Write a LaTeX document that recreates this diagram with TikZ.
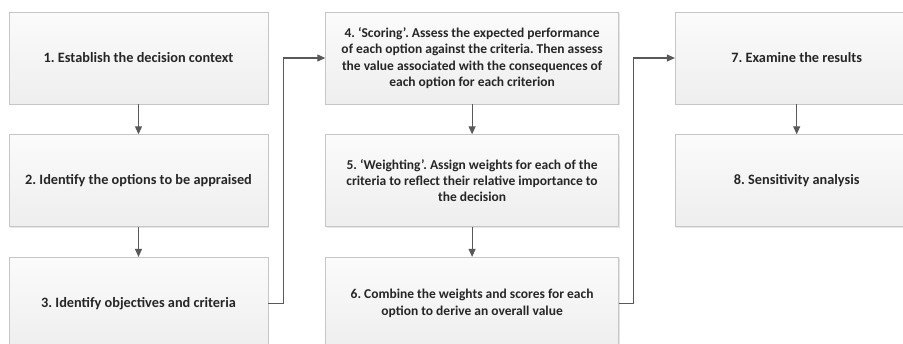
\documentclass[tikz,border=0pt]{standalone}
\usepackage{fontspec}
\setmainfont{Carlito}
\frenchspacing
\usetikzlibrary{positioning, arrows.meta, shadows}
\definecolor{boxTop}{HTML}{FBFBFB}
\definecolor{boxBottom}{HTML}{EEEEEE}
\definecolor{borderGray}{HTML}{C6C6C6}
\definecolor{arrowColor}{HTML}{595959}
\definecolor{textMain}{HTML}{262626}
\tikzset{
  stepbox/.style={
    draw=borderGray, top color=boxTop, bottom color=boxBottom,
    minimum height=92pt, inner sep=4pt,
    font=\bfseries\fontsize{14.3}{17}\selectfont, text=textMain,
    line width=0.6pt, align=center,
    drop shadow={opacity=0.2, shadow xshift=1.2pt, shadow yshift=-1.2pt},
  },
  longtext/.style={font=\bfseries\fontsize{13.5}{16.4}\selectfont},
  narrowbox/.style={stepbox, minimum width=259pt},
  widebox/.style={stepbox, longtext, minimum width=293pt},
  rightbox/.style={stepbox, minimum width=243pt},
  flowarrow/.style={
    -{Triangle[length=8pt, width=7pt]}, line width=1.1pt, color=arrowColor,
  },
}

\begin{document}
\begin{tikzpicture}

  \clip (0,0) rectangle (903pt,-343pt);

  % === Left column ===
  \node[narrowbox] (context) at (138.5pt,-58pt) {1. Establish the decision context};
  \node[narrowbox, below=30pt of context] (options) {2. Identify the options to be appraised};
  \node[narrowbox, below=30pt of options] (criteria) {3. Identify objectives and criteria};

  % === Middle column ===
  \node[widebox, right=57pt of context] (scoring)
    {4. `Scoring'. Assess the expected performance\\of each option against the criteria. Then assess\\the value associated with the consequences of\\each option for each criterion};
  \node[widebox, below=30pt of scoring] (weighting)
    {5. `Weighting'. Assign weights for each of the\\criteria to reflect their relative importance to\\the decision};
  \node[widebox, below=30pt of weighting] (combine)
    {6. Combine the weights and scores for each\\option to derive an overall value};

  % === Right column ===
  \node[rightbox, right=56pt of scoring] (results) {7. Examine the results};
  \node[rightbox, below=30pt of results] (sensitivity) {8. Sensitivity analysis};

  % === Arrows down each column ===
  \draw[flowarrow] (context) -- (options);
  \draw[flowarrow] (options) -- (criteria);
  \draw[flowarrow] (scoring) -- (weighting);
  \draw[flowarrow] (weighting) -- (combine);
  \draw[flowarrow] (results) -- (sensitivity);

  % === Arrows between columns ===
  \draw[flowarrow] (criteria.east) -- ++(15pt,0) |- (scoring.west);
  \draw[flowarrow] (combine.east) -- ++(15pt,0) |- (results.west);

\end{tikzpicture}
\end{document}
